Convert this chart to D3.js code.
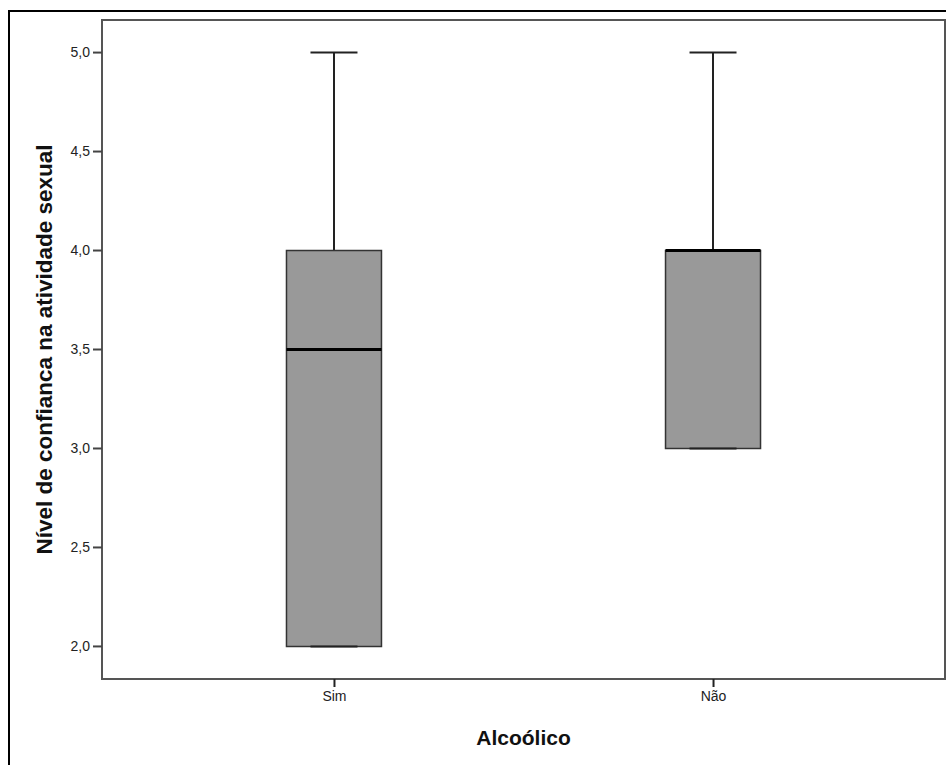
<!DOCTYPE html>
<html>
<head>
<meta charset="utf-8">
<script src="https://cdn.jsdelivr.net/npm/d3@7"></script>
<style>
  body { margin: 0; background: #fff; }
  svg { display: block; font-family: "Liberation Sans", Arial, sans-serif; }
</style>
</head>
<body>
<svg></svg>
<script>
// box plot data
let groups = ["Sim", "Não"];
let mins    = [2.0, 3.0];
let q1s     = [2.0, 3.0];
let medians = [3.5, 4.0];
let q3s     = [4.0, 4.0];
let maxs    = [5.0, 5.0];
let yTicks  = [2.0, 2.5, 3.0, 3.5, 4.0, 4.5, 5.0];

let width = 946;
let height = 765;
let plot = {left: 102, right: 945, top: 20, bottom: 679};

let svg = d3.select("svg")
    .attr("width", width)
    .attr("height", height);

// outer frame
svg.append("rect")
    .attr("x", 9).attr("y", 11)
    .attr("width", 960).attr("height", 800)
    .attr("fill", "none")
    .attr("stroke", "#000")
    .attr("stroke-width", 2);

let xScale = d3.scalePoint()
    .domain(groups)
    .range([plot.left, plot.right])
    .padding(0.612);

let yScale = d3.scaleLinear()
    .domain([1.833, 5.162])
    .range([plot.bottom, plot.top]);

let yOf = v => Math.round(yScale(v)) + 0.5;

// plot area frame
svg.append("rect")
    .attr("x", plot.left).attr("y", plot.top)
    .attr("width", plot.right - plot.left)
    .attr("height", plot.bottom - plot.top)
    .attr("fill", "none")
    .attr("stroke", "#555")
    .attr("stroke-width", 2);

let yAxis = d3.axisLeft(yScale)
    .tickValues(yTicks)
    .tickSize(9)
    .tickPadding(3)
    .tickFormat(d => d3.format(".1f")(d).replace(".", ","));

let gy = svg.append("g")
    .attr("transform", "translate(" + plot.left + ",0)")
    .call(yAxis);
gy.select(".domain").remove();
gy.selectAll(".tick line").attr("stroke", "#444").attr("stroke-width", 2);
gy.selectAll(".tick text").style("font-size", "14px").attr("fill", "#222");

let xAxis = d3.axisBottom(xScale)
    .tickSize(8)
    .tickPadding(4);

let gx = svg.append("g")
    .attr("transform", "translate(0," + plot.bottom + ")")
    .call(xAxis);
gx.select(".domain").remove();
gx.selectAll(".tick line").attr("stroke", "#222").attr("stroke-width", 2);
gx.selectAll(".tick text").style("font-size", "14px").attr("fill", "#222");

let boxW = 95;
let capW = 47;

let boxes = svg.selectAll(".box")
    .data(groups)
    .enter()
    .append("g")
    .attr("class", "box");

// upper whisker
boxes.append("line")
    .attr("x1", d => xScale(d)).attr("x2", d => xScale(d))
    .attr("y1", (d, i) => yOf(maxs[i]))
    .attr("y2", (d, i) => yOf(q3s[i]))
    .attr("stroke", "#222").attr("stroke-width", 2);

// lower whisker
boxes.append("line")
    .attr("x1", d => xScale(d)).attr("x2", d => xScale(d))
    .attr("y1", (d, i) => yOf(mins[i]))
    .attr("y2", (d, i) => yOf(q1s[i]))
    .attr("stroke", "#222").attr("stroke-width", 2);

boxes.append("rect")
    .attr("x", d => xScale(d) - boxW / 2)
    .attr("y", (d, i) => yOf(q3s[i]))
    .attr("width", boxW)
    .attr("height", (d, i) => yOf(q1s[i]) - yOf(q3s[i]))
    .attr("fill", "#999999")
    .attr("stroke", "#333")
    .attr("stroke-width", 1.5);

// caps
boxes.append("line")
    .attr("x1", d => xScale(d) - capW / 2).attr("x2", d => xScale(d) + capW / 2)
    .attr("y1", (d, i) => yOf(maxs[i])).attr("y2", (d, i) => yOf(maxs[i]))
    .attr("stroke", "#222").attr("stroke-width", 2);

boxes.append("line")
    .attr("x1", d => xScale(d) - capW / 2).attr("x2", d => xScale(d) + capW / 2)
    .attr("y1", (d, i) => yOf(mins[i])).attr("y2", (d, i) => yOf(mins[i]))
    .attr("stroke", "#222").attr("stroke-width", 2);

// median
boxes.append("line")
    .attr("x1", d => xScale(d) - boxW / 2).attr("x2", d => xScale(d) + boxW / 2)
    .attr("y1", (d, i) => yOf(medians[i])).attr("y2", (d, i) => yOf(medians[i]))
    .attr("stroke", "#000").attr("stroke-width", 3);

// axis titles
svg.append("text")
    .attr("x", (plot.left + plot.right) / 2)
    .attr("y", 745)
    .attr("text-anchor", "middle")
    .style("font-size", "21px")
    .style("font-weight", "bold")
    .attr("fill", "#111")
    .text("Alcoólico");

svg.append("text")
    .attr("transform", "translate(52," + ((plot.top + plot.bottom) / 2) + ")rotate(-90)")
    .attr("text-anchor", "middle")
    .style("font-size", "22.5px")
    .style("font-weight", "bold")
    .attr("fill", "#111")
    .text("Nível de confianca na atividade sexual");
</script>
</body>
</html>
